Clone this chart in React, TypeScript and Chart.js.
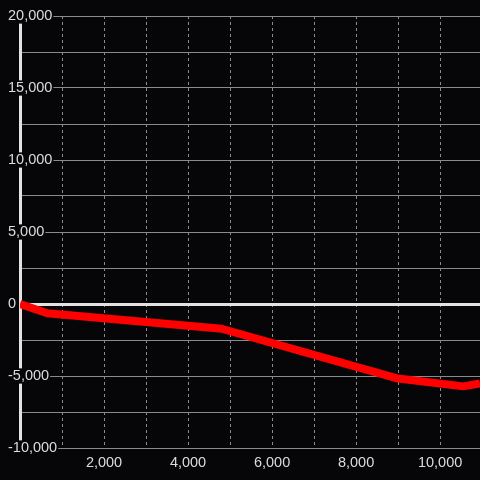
import React, { useEffect, useRef } from "react";
import { Chart, registerables } from "chart.js";

Chart.register(...registerables);

// Data
const xValues = [0, 650, 4800, 9000, 10550, 10950];
const yValues = [0, -640, -1720, -5180, -5720, -5520];

// Tick positions
const xTicks = [0, 1000, 2000, 3000, 4000, 5000, 6000, 7000, 8000, 9000, 10000];
const xLabelled = [2000, 4000, 6000, 8000, 10000];
const yTickMin = -10000;
const yTickMax = 20000;
const yStep = 2500;
const yLabelEvery = 5000;

const BG = "#060608";
const TEXT = "#dcdcdc";
const GRID = "#8a8a8a";
const AXIS = "#e2e2e2";
const FONT = "'Liberation Sans', Arial, sans-serif";

const fmt = (v: number) => v.toLocaleString("en-US");
const isMultiple = (v: any, m: number) => Math.round(Number(v)) % m === 0;

export default function App() {
  const ref = useRef<HTMLCanvasElement | null>(null);

  useEffect(() => {
    if (!ref.current) return;
    const bgPlugin = {
      id: "bg",
      beforeDraw(chart: any) {
        const c = chart.ctx;
        c.save();
        c.fillStyle = BG;
        c.fillRect(0, 0, chart.width, chart.height);
        c.restore();
      },
    };
    const chart = new Chart(ref.current, {
      type: "line",
      data: {
        datasets: [
          {
            data: xValues.map((x, i) => ({ x, y: yValues[i] })),
            borderColor: "#ff0000",
            borderWidth: 8,
            pointRadius: 0,
            tension: 0,
            borderJoinStyle: "round",
            borderCapStyle: "butt",
          },
        ],
      },
      options: {
        animation: false,
        responsive: true,
        maintainAspectRatio: false,
        layout: { padding: { top: 16, left: 0, right: 0, bottom: 0 } },
        plugins: { legend: { display: false }, tooltip: { enabled: false } },
        scales: {
          x: {
            type: "linear",
            min: 0,
            max: xValues[xValues.length - 1],
            border: { display: false, dash: [3, 3] },
            grid: {
              color: GRID,
              lineWidth: 1,
              drawTicks: false,
            },
            afterBuildTicks: (s: any) => {
              s.ticks = xTicks.map((v) => ({ value: v }));
            },
            ticks: {
              maxRotation: 0,
              autoSkip: false,
              padding: 6,
              color: TEXT,
              font: { family: FONT, size: 14.5 },
              callback: (v: any) => (xLabelled.includes(Math.round(Number(v))) ? fmt(Number(v)) : ""),
            },
            afterFit: (s: any) => {
              s.height = 32;
              s.paddingLeft = 0;
              s.paddingRight = 0;
            },
          } as any,
          y: {
            type: "linear",
            min: yTickMin,
            max: yTickMax,
            position: "left",
            border: { display: true, color: AXIS, width: 3 },
            grid: {
              color: (ctx: any) => (ctx.tick && ctx.tick.value === 0 ? AXIS : GRID),
              lineWidth: (ctx: any) => (ctx.tick && ctx.tick.value === 0 ? 3 : 1),
              drawTicks: false,
            },
            ticks: {
              stepSize: yStep,
              mirror: true,
              padding: -12,
              color: TEXT,
              font: { family: FONT, size: 14.5, lineHeight: 1.05 },
              showLabelBackdrop: (ctx: any) => !!ctx.tick && isMultiple(ctx.tick.value, yLabelEvery),
              backdropColor: BG,
              backdropPadding: { x: 1, y: 0 },
              callback: (v: any) => (isMultiple(v, yLabelEvery) ? fmt(Number(v)) : ""),
            },
            afterFit: (s: any) => {
              s.width = 20;
              s.paddingTop = 0;
              s.paddingBottom = 0;
            },
          } as any,
        },
      } as any,
      plugins: [bgPlugin],
    });
    return () => chart.destroy();
  }, []);

  return (
    <div style={{ position: "fixed", left: 0, top: 0, width: 480, height: 480, background: BG }}>
      <canvas ref={ref} />
    </div>
  );
}
